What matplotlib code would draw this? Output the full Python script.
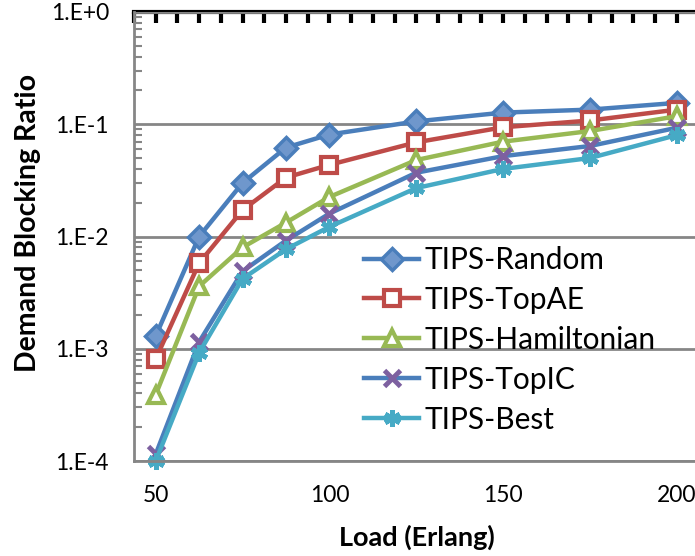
import numpy as np
import matplotlib
matplotlib.use("Agg")
import matplotlib.pyplot as plt
from matplotlib.ticker import FixedLocator, LogLocator, NullFormatter, FuncFormatter

plt.rcParams['font.family'] = ['Lato', 'DejaVu Sans']

# data
load = [50, 62.5, 75, 87.5, 100, 125, 150, 175, 200]
tips_random = [1.3e-3, 1.0e-2, 0.030, 0.062, 0.081, 0.106, 0.127, 0.135, 0.155]
tips_topae = [8.1e-4, 5.8e-3, 0.0172, 0.0335, 0.0435, 0.069, 0.094, 0.108, 0.135]
tips_ham = [3.9e-4, 3.6e-3, 8.0e-3, 0.0133, 0.0225, 0.048, 0.070, 0.087, 0.118]
tips_topic = [1.15e-4, 1.15e-3, 4.9e-3, 9.2e-3, 0.016, 0.037, 0.052, 0.064, 0.093]
tips_best = [1.0e-4, 9.2e-4, 4.2e-3, 7.7e-3, 0.0122, 0.027, 0.040, 0.050, 0.080]

labels = ["TIPS-Random", "TIPS-TopAE", "TIPS-Hamiltonian", "TIPS-TopIC", "TIPS-Best"]
x_ticks = [50, 100, 150, 200]

W, H = 695, 556
fig = plt.figure(figsize=(W / 100, H / 100), dpi=100)
ax = fig.add_axes([134 / W, 1 - 461 / H, 1 - 134 / W, (461 - 12) / H])

grid_c = '#868686'
lw = 3.2

ax.plot(load, tips_random, color='#4a7ebb', lw=lw, marker='D', ms=11,
        mfc='#6f97cc', mec='#4a7ebb', mew=2.5, label=labels[0], clip_on=False)
ax.plot(load, tips_topae, color='#be4b48', lw=lw, marker='s', ms=11,
        mfc='white', mec='#be4b48', mew=3, label=labels[1], clip_on=False)
ax.plot(load, tips_ham, color='#98b954', lw=lw, marker='^', ms=12,
        mfc='white', mec='#98b954', mew=3, label=labels[2], clip_on=False)
ax.plot(load, tips_topic, color='#4a7ebb', lw=lw, marker='x', ms=12,
        mec='#7d60a0', mew=3.5, label=labels[3], clip_on=False)
ax.plot(load, tips_best, color='#46aac5', lw=lw, marker=(6, 2, 0), ms=12,
        mec='#46aac5', mew=3.5, label=labels[4], clip_on=False)

ax.set_yscale('log')
ax.set_ylim(1e-4, 1)
ax.set_xlim(43.75, 205.25)

ax.yaxis.set_major_locator(FixedLocator([1e-4, 1e-3, 1e-2, 1e-1, 1]))
ax.yaxis.set_major_formatter(FuncFormatter(lambda v, _: "1.E%+d" % int(round(np.log10(v)))))
ax.yaxis.set_minor_locator(LogLocator(base=10, subs=np.arange(2, 10)))
ax.yaxis.set_minor_formatter(NullFormatter())
ax.grid(axis='y', which='major', color=grid_c, lw=2)
ax.set_axisbelow(True)

ax.set_xticks(x_ticks)
ax.tick_params(axis='x', which='major', length=0, pad=17, labelsize=16.5)
ax.tick_params(axis='y', which='major', length=0, pad=18, labelsize=16.5)
ax.tick_params(axis='y', which='minor', direction='in', length=6, width=1.5, color=grid_c)

for s in ['left', 'bottom']:
    ax.spines[s].set_color(grid_c)
    ax.spines[s].set_linewidth(2)
ax.spines['right'].set_visible(False)
ax.spines['top'].set_visible(False)

top = ax.secondary_xaxis('top')
top.set_xticks(np.arange(43.75, 206, 6.25))
top.set_xticklabels([])
top.tick_params(direction='in', length=8, width=3, color='black')
top.spines['top'].set_color('black')
top.spines['top'].set_linewidth(3)

ax.set_xlabel("Load (Erlang)", fontsize=19.5, fontweight='bold', va='center')
ax.xaxis.set_label_coords((417 - 134) / (W - 134), -(537 - 461) / 449)
ax.set_ylabel("Demand Blocking Ratio", fontsize=20.5, fontweight='bold', va='center')
ax.yaxis.set_label_coords((28 - 134) / (W - 134), (461 - 223) / 449)

ax.legend(loc='upper left', bbox_to_anchor=(364 / W, 1 - 246 / H),
          bbox_transform=fig.transFigure, frameon=False, fontsize=21.5,
          handlelength=1.85, handletextpad=0.18, labelspacing=0.4,
          borderpad=0, borderaxespad=0)

fig.savefig("out.png", dpi=100)
